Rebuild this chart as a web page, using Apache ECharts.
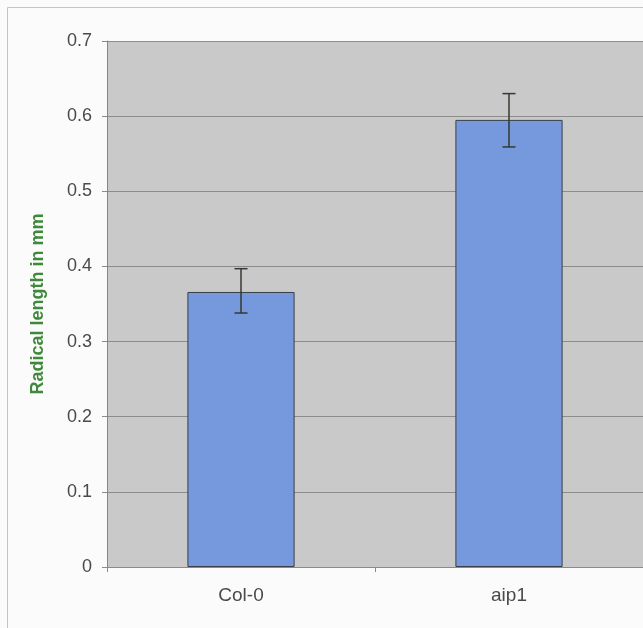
<!DOCTYPE html>
<html>
<head>
<meta charset="utf-8">
<script src="https://cdn.jsdelivr.net/npm/echarts@6/dist/echarts.min.js"></script>
<style>
html,body{margin:0;padding:0;background:#fbfbfb;}
#chart{width:643px;height:628px;}
</style>
</head>
<body>
<div id="chart"></div>
<script>
// Mean radical length per genotype, with error ranges
const categories = ['Col-0', 'aip1'];
const meanLength = [0.366, 0.595];
const errLow = [0.338, 0.559];
const errHigh = [0.397, 0.630];
const yTicks = { min: 0, max: 0.7, step: 0.1 };

const chart = echarts.init(document.getElementById('chart'));
const errData = categories.map((c, i) => [i, errLow[i], errHigh[i]]);
const font = 'Liberation Sans, Arial, sans-serif';

chart.setOption({
  animation: false,
  backgroundColor: '#fbfbfb',
  graphic: [{
    type: 'rect',
    shape: { x: 7.5, y: 7.5, width: 700, height: 700 },
    style: { fill: 'none', stroke: '#c4c4c4', lineWidth: 1 },
    silent: true
  }],
  grid: {
    left: 107, right: 0, top: 41, bottom: 61,
    show: true, backgroundColor: '#c9c9c9', borderWidth: 0
  },
  xAxis: {
    type: 'category',
    data: categories,
    axisLine: { lineStyle: { color: '#8a8a8a', width: 1 } },
    axisTick: { show: true, length: 5, lineStyle: { color: '#8a8a8a' } },
    axisLabel: { color: '#4a4a4a', fontSize: 19, fontFamily: font, margin: 19 }
  },
  yAxis: {
    type: 'value',
    min: yTicks.min, max: yTicks.max, interval: yTicks.step,
    name: 'Radical length in mm',
    nameLocation: 'middle',
    nameGap: 60,
    nameTextStyle: { color: '#3f8a3a', fontSize: 18, fontWeight: 'bold', fontFamily: font },
    axisLine: { show: true, lineStyle: { color: '#6f9a5f', width: 1 } },
    axisTick: { show: true, length: 5, lineStyle: { color: '#8a8a8a' } },
    axisLabel: {
      color: '#4a4a4a', fontSize: 18, fontFamily: font, margin: 15,
      formatter: v => v === 0 ? '0' : v.toFixed(1)
    },
    splitLine: { show: true, lineStyle: { color: '#8c8c8c', width: 1 } }
  },
  series: [
    {
      type: 'bar',
      data: meanLength,
      barWidth: '40%',
      itemStyle: { color: '#7599dc', borderColor: '#3a3f48', borderWidth: 1 }
    },
    {
      type: 'custom',
      data: errData,
      z: 10,
      renderItem: function (params, api) {
        const x = api.value(0);
        const lo = api.coord([x, api.value(1)]);
        const hi = api.coord([x, api.value(2)]);
        const cap = 6.5;
        const st = { stroke: '#333a30', lineWidth: 1.5 };
        return {
          type: 'group',
          children: [
            { type: 'line', shape: { x1: lo[0], y1: lo[1], x2: hi[0], y2: hi[1] }, style: st },
            { type: 'line', shape: { x1: lo[0] - cap, y1: lo[1], x2: lo[0] + cap, y2: lo[1] }, style: st },
            { type: 'line', shape: { x1: hi[0] - cap, y1: hi[1], x2: hi[0] + cap, y2: hi[1] }, style: st }
          ]
        };
      }
    }
  ]
});
</script>
</body>
</html>
